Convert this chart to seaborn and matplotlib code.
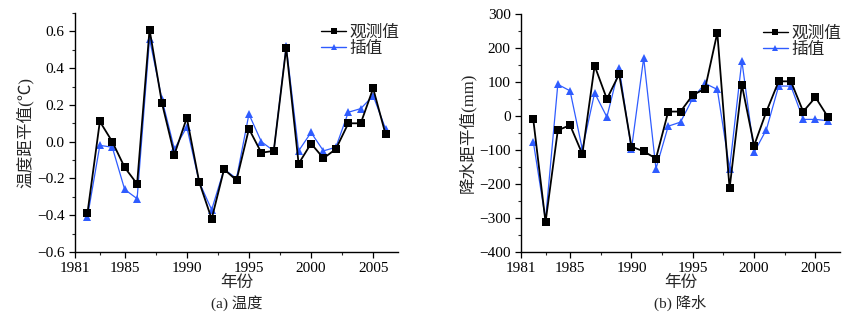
import numpy as np
import pandas as pd
import seaborn as sns
import matplotlib.pyplot as plt
from matplotlib.ticker import MultipleLocator, FixedLocator

years = list(range(1982, 2007))

temp_obs = [-0.39, 0.11, 0.00, -0.14, -0.23, 0.61, 0.21, -0.07, 0.13, -0.22,
            -0.42, -0.15, -0.21, 0.07, -0.06, -0.05, 0.51, -0.12, -0.01, -0.09,
            -0.04, 0.10, 0.10, 0.29, 0.04]
temp_interp = [-0.41, -0.02, -0.03, -0.26, -0.31, 0.56, 0.23, -0.04, 0.08, -0.22,
               -0.37, -0.15, -0.20, 0.15, 0.00, -0.05, 0.52, -0.05, 0.05, -0.05,
               -0.03, 0.16, 0.18, 0.25, 0.07]

prec_obs = [-10, -312, -42, -27, -112, 148, 50, 123, -90, -104,
            -125, 13, 13, 62, 80, 245, -213, 92, -87, 13,
            102, 102, 13, 55, -2]
prec_interp = [-75, -305, 93, 74, -98, 68, -3, 142, -98, 171,
               -155, -30, -18, 52, 96, 78, -155, 163, -107, -40,
               88, 88, -10, -10, -14]

series_names = ["观测值", "插值"]
x_ticks = [1981, 1985, 1990, 1995, 2000, 2005]
temp_ticks = [-0.6, -0.4, -0.2, 0.0, 0.2, 0.4, 0.6]
prec_ticks = [-400, -300, -200, -100, 0, 100, 200, 300]

sns.set_style("ticks")
plt.rcParams["font.family"] = ["Liberation Serif", "Noto Sans CJK SC"]
plt.rcParams["axes.unicode_minus"] = False
plt.rcParams["xtick.direction"] = "out"
plt.rcParams["ytick.direction"] = "out"

fig = plt.figure(figsize=(8.54, 3.23), dpi=100)
ax1 = fig.add_axes([75/854, 1 - 252/323, (398-75)/854, (252-13)/323])
ax2 = fig.add_axes([521/854, 1 - 252/323, (840-521)/854, (252-14)/323])

blue = "#2f5cff"

def draw(ax, obs, interp):
    df = pd.DataFrame({"年份": years * 2,
                       "值": obs + interp,
                       "系列": [series_names[0]] * len(years) + [series_names[1]] * len(years)})
    sns.lineplot(data=df, x="年份", y="值", hue="系列", style="系列",
                 palette={series_names[0]: "black", series_names[1]: blue},
                 markers={series_names[0]: "s", series_names[1]: "^"},
                 dashes=False, markersize=5.5, markeredgewidth=0,
                 ax=ax, legend=True)
    for ln, lw in zip(ax.lines[:2], [1.3, 0.9]):
        ln.set_linewidth(lw)
    ax.lines[1].set_zorder(1.5)
    ax.set_xlim(1981, 2007)
    ax.xaxis.set_major_locator(FixedLocator(x_ticks))
    ax.xaxis.set_minor_locator(FixedLocator([1983, 1987.5, 1992.5, 1997.5, 2002.5]))
    ax.tick_params(which="major", length=4, width=0.9, labelsize=11, colors="black")
    ax.tick_params(which="minor", length=2.5, width=0.8)
    for s in ["left", "bottom"]:
        ax.spines[s].set_linewidth(1.0)
        ax.spines[s].set_color("black")
    sns.despine(ax=ax)
    ax.set_xlabel("年份", fontsize=12, labelpad=0)
    leg = ax.legend(loc="upper right", bbox_to_anchor=(1.04, 1.0), frameon=False,
                    fontsize=12, handlelength=1.5, handletextpad=0.2,
                    labelspacing=0.0, borderaxespad=0.3)
    for h in leg.legend_handles:
        h.set_markersize(4.5)
        h.set_linewidth(1.0)

draw(ax1, temp_obs, temp_interp)
ax1.set_ylim(-0.6, 0.7)
ax1.yaxis.set_major_locator(FixedLocator(temp_ticks))
ax1.yaxis.set_minor_locator(MultipleLocator(0.1))
ax1.set_yticklabels([f"{v:.1f}".replace("-", "−") for v in temp_ticks])
ax1.set_ylabel("温度距平值(℃)", fontsize=12, labelpad=2)

draw(ax2, prec_obs, prec_interp)
ax2.set_ylim(-400, 300)
ax2.yaxis.set_major_locator(FixedLocator(prec_ticks))
ax2.yaxis.set_minor_locator(MultipleLocator(50))
ax2.set_yticklabels([str(v).replace("-", "−") for v in prec_ticks])
ax2.set_ylabel("降水距平值(mm)", fontsize=12, labelpad=2)

fig.text((75 + 398) / 2 / 854, 1 - 303/323, "(a) 温度", ha="center", va="center", fontsize=11)
fig.text((521 + 840) / 2 / 854, 1 - 303/323, "(b) 降水", ha="center", va="center", fontsize=11)

fig.savefig("out.png", dpi=100)
